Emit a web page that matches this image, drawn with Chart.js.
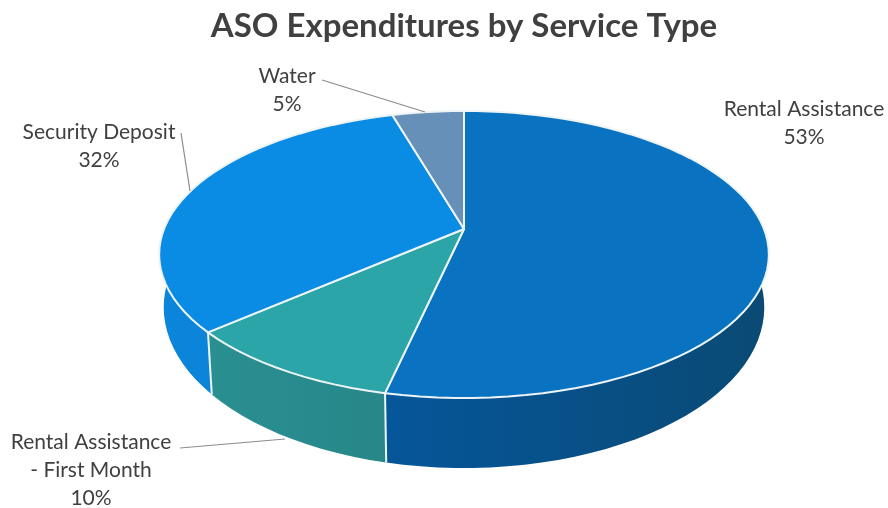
<!DOCTYPE html>
<html>
<head>
<meta charset="utf-8">
<style>html,body{margin:0;padding:0;background:#fff}canvas{display:block}</style>
<script src="https://cdn.jsdelivr.net/npm/chart.js@4"></script>
</head>
<body>
<canvas id="c" width="888" height="508"></canvas>
<script>
const categories = ["Rental Assistance", "Rental Assistance - First Month", "Security Deposit", "Water"];
const shares = [53.49, 10.1, 31.9, 4.51];
const topColors = ["#0A73C1", "#2BA5A7", "#0A8BE4", "#6790B9"];
const wallLeft = ["#06569A", "#2A8F91", "#0B86DC", "#507BA4"];
const wallRight = ["#0A4A74", "#278789", "#0A7CCB", "#507BA4"];
const labelLines = [["Rental Assistance"], ["Rental Assistance", "- First Month"], ["Security Deposit"], ["Water"]];
const labelSpots = [[804, 109], [91, 442], [99, 132], [287, 76]];
const leaders = [null, [[180, 448], [285, 439]], [[181, 133], [190, 191]], [[322, 80], [425, 112]]];

const TILT = {semiX: 300, semiY: 139, k: 0.1777, depth: 70, depthFall: 0.12, shrink: 0.985, steps: 64};

function proj(el, a) {
  const u = Math.cos(a), v = Math.sin(a), w = 1 - TILT.k * v;
  return [el.x + TILT.semiX * u / w, el.y + TILT.semiY * v / w];
}
function lower(el, p) {
  const frontY = el.y + TILT.semiY / (1 - TILT.k);
  return [el.x + (p[0] - el.x) * TILT.shrink, p[1] + TILT.depth - (frontY - p[1]) * TILT.depthFall];
}
function arcPoints(el) {
  const pts = [];
  const n = Math.max(2, Math.ceil(TILT.steps * (el.endAngle - el.startAngle) / Math.PI));
  for (let i = 0; i <= n; i++) pts.push(proj(el, el.startAngle + (el.endAngle - el.startAngle) * i / n));
  return pts;
}

const Arc = Chart.registry.getElement('arc');
Arc.prototype.draw = function (ctx) {
  const o = this.options, pts = arcPoints(this);
  ctx.save();
  ctx.beginPath();
  ctx.moveTo(this.x, this.y);
  pts.forEach(p => ctx.lineTo(p[0], p[1]));
  ctx.closePath();
  ctx.fillStyle = o.backgroundColor;
  ctx.fill();
  ctx.strokeStyle = o.borderColor;
  ctx.lineWidth = o.borderWidth;
  ctx.lineJoin = 'round';
  ctx.stroke();
  ctx.restore();
};

const wallsPlugin = {
  id: 'walls',
  beforeDatasetsDraw(chart) {
    const ctx = chart.ctx, arcs = chart.getDatasetMeta(0).data;
    ctx.save();
    arcs.forEach((el, i) => {
      const pts = arcPoints(el), low = pts.map(p => lower(el, p));
      const xs = pts.map(p => p[0]);
      const g = ctx.createLinearGradient(Math.min(...xs), 0, Math.max(...xs), 0);
      g.addColorStop(0, wallLeft[i]);
      g.addColorStop(1, wallRight[i]);
      ctx.beginPath();
      pts.forEach((p, j) => j ? ctx.lineTo(p[0], p[1]) : ctx.moveTo(p[0], p[1]));
      low.reverse().forEach(p => ctx.lineTo(p[0], p[1]));
      ctx.closePath();
      ctx.fillStyle = g;
      ctx.fill();
    });
    arcs.forEach(el => {
      if (Math.sin(el.startAngle) > 0) {
        const p = proj(el, el.startAngle), q = lower(el, p);
        ctx.beginPath();
        ctx.moveTo(p[0], p[1]);
        ctx.lineTo(q[0], q[1]);
        ctx.strokeStyle = '#EEF4F6';
        ctx.lineWidth = 2;
        ctx.stroke();
      }
    });
    ctx.restore();
  },
  afterDatasetsDraw(chart) {
    const ctx = chart.ctx;
    ctx.save();
    ctx.strokeStyle = '#8C8C8C';
    ctx.lineWidth = 1.2;
    leaders.forEach(l => {
      if (!l) return;
      ctx.beginPath();
      ctx.moveTo(l[0][0], l[0][1]);
      ctx.lineTo(l[1][0], l[1][1]);
      ctx.stroke();
    });
    ctx.fillStyle = '#404040';
    ctx.font = '21px Lato';
    ctx.textAlign = 'center';
    ctx.textBaseline = 'middle';
    shares.forEach((s, i) => {
      const lines = labelLines[i].concat(Math.round(s) + '%');
      lines.forEach((t, j) => ctx.fillText(t, labelSpots[i][0], labelSpots[i][1] + j * 28));
    });
    ctx.restore();
  }
};

new Chart(document.getElementById('c'), {
  type: 'pie',
  data: {
    labels: categories,
    datasets: [{data: shares, backgroundColor: topColors, borderColor: '#EEF4F6', borderWidth: 2}]
  },
  options: {
    responsive: false,
    animation: false,
    events: [],
    layout: {padding: {left: 40, right: 0, top: 0, bottom: 104.6}},
    plugins: {
      legend: {display: false},
      tooltip: {enabled: false},
      title: {
        display: true,
        text: 'ASO Expenditures by Service Type',
        color: '#404040',
        font: {family: 'Lato', size: 33, weight: 'bold'},
        padding: {top: 7, bottom: 8}
      }
    }
  },
  plugins: [wallsPlugin]
});
</script>
</body>
</html>
